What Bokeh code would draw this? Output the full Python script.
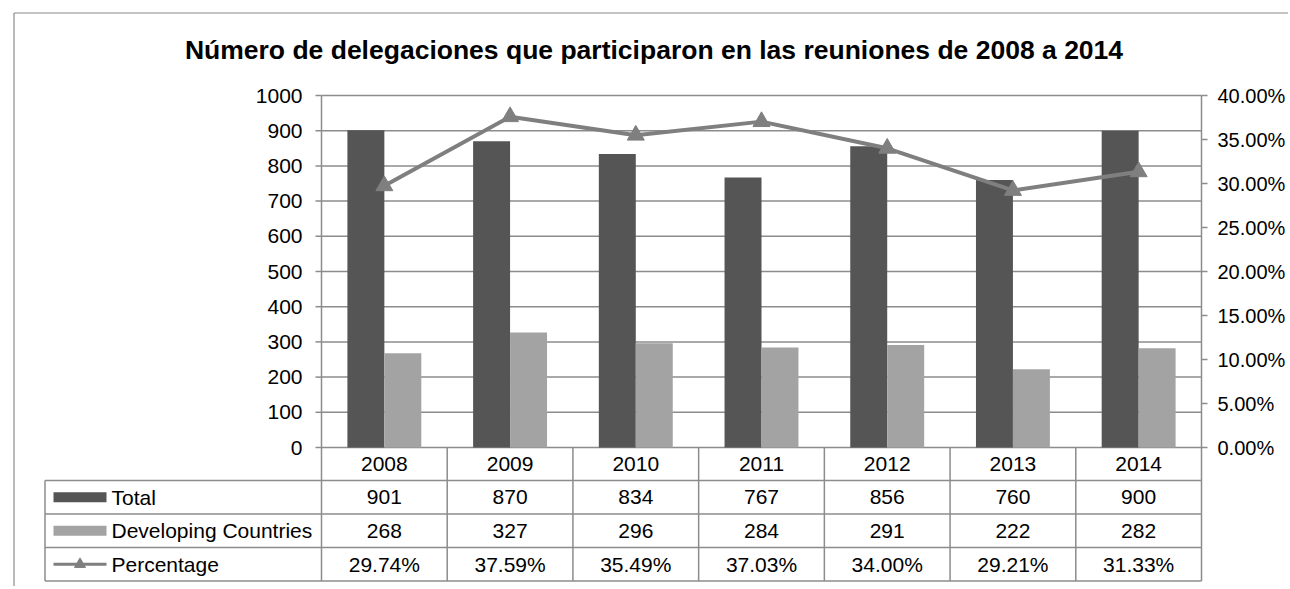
from bokeh.plotting import figure
from bokeh.models import Range1d, ColumnDataSource
from bokeh.core.properties import value
from bokeh.embed import file_html
from bokeh.resources import INLINE
import numpy as np

# ---------------- data ----------------
years = ["2008", "2009", "2010", "2011", "2012", "2013", "2014"]
total = [901, 870, 834, 767, 856, 760, 900]
developing = [268, 327, 296, 284, 291, 222, 282]
percentage = [29.74, 37.59, 35.49, 37.03, 34.00, 29.21, 31.33]
left_ticks = [0, 100, 200, 300, 400, 500, 600, 700, 800, 900, 1000]
right_ticks = [0, 5, 10, 15, 20, 25, 30, 35, 40]
series_names = ["Total", "Developing Countries", "Percentage"]
title_text = "Número de delegaciones que participaron en las reuniones de 2008 a 2014"

# ---------------- geometry (page pixels) ----------------
W, H = 1288, 586
M = 0
PX0, PX1 = 321, 1201      # plot area left / right
PY0, PY1 = 447, 95        # pixel row of value 0 and of value 1000
n = len(years)
ppx = (PX1 - PX0) / n
ppy = (PY0 - PY1) / 1000.0


def dx(ix):
    return (ix - PX0) / ppx


def dy(iy):
    return (PY0 - iy) / ppy


FONT = value("Liberation Sans")
FS = "21px"
GRID = "#8c8c8c"
C_TOTAL = "#555555"
C_DEV = "#a3a3a3"
C_LINE = "#7f7f7f"

p = figure(width=W, height=H,
           x_range=Range1d(dx(M), dx(M + W)),
           y_range=Range1d(dy(M + H), dy(M)),
           output_backend="svg", toolbar_location=None,
           x_axis_location=None, y_axis_location=None,
           min_border=0, title=None, outline_line_color=None,
           background_fill_color="white", border_fill_color="white")
p.grid.visible = False
pct_scale = 1000.0 / max(right_ticks)
p.extra_y_ranges = {"pct": Range1d(dy(M + H) / pct_scale, dy(M) / pct_scale)}

idx = np.arange(n) + 0.5
bw = 0.294
src = ColumnDataSource(dict(
    x=idx, xt=idx - bw / 2, xd=idx + bw / 2,
    total=total, developing=developing, pct=percentage,
))

# outer chart border
p.segment(x0=[dx(13.5), dx(13.5)], y0=[dy(12.5), dy(12.5)],
          x1=[dx(1300), dx(13.5)], y1=[dy(12.5), dy(600)],
          line_color="#8a8a8a", line_width=1.2)

# horizontal grid lines
p.segment(x0=0, x1=n, y0=left_ticks, y1=left_ticks, line_color=GRID, line_width=1.5)
# left axis ticks
p.segment(x0=dx(315), x1=0, y0=left_ticks, y1=left_ticks, line_color=GRID, line_width=1.5)
# right axis ticks
p.segment(x0=n, x1=dx(1207), y0=right_ticks, y1=right_ticks, line_color=GRID,
          line_width=1.5, y_range_name="pct")

# table geometry
row_lines = [dy(480), dy(513.5), dy(547), dy(580.5)]
row_mid = [dy(463.5), dy(496.75), dy(530.25), dy(563.75)]
leg_left = dx(44.5)

# vertical lines: plot borders and table column dividers
p.segment(x0=list(range(n + 1)), x1=list(range(n + 1)),
          y0=[max(left_ticks)] + [0] * (n - 1) + [max(left_ticks)],
          y1=[row_lines[-1]] * (n + 1), line_color=GRID, line_width=1.5)
# legend column left line
p.segment(x0=[leg_left], x1=[leg_left], y0=[row_lines[0]], y1=[row_lines[-1]],
          line_color=GRID, line_width=1.5)
# table row lines
p.segment(x0=[leg_left] * 4, x1=[n] * 4, y0=row_lines, y1=row_lines,
          line_color=GRID, line_width=1.5)

# bars
p.vbar(x="xt", top="total", bottom=0, width=bw, source=src,
       fill_color=C_TOTAL, line_color=None)
p.vbar(x="xd", top="developing", bottom=0, width=bw, source=src,
       fill_color=C_DEV, line_color=None)

# percentage line
p.line(x="x", y="pct", source=src, y_range_name="pct",
       line_color=C_LINE, line_width=4)
p.scatter(x="x", y="pct", source=src, y_range_name="pct", marker="triangle",
          size=17, fill_color=C_LINE, line_color=C_LINE)

# axis labels
p.text(x=[dx(302)] * len(left_ticks), y=left_ticks, text=[str(v) for v in left_ticks],
       text_align="right", text_baseline="middle", text_font=FONT,
       text_font_size=FS, text_color="black")
p.text(x=[dx(1217)] * len(right_ticks), y=right_ticks,
       text=[f"{v:.2f}%" for v in right_ticks], y_range_name="pct",
       text_align="left", text_baseline="middle", text_font=FONT,
       text_font_size="20px", text_color="black")

# table texts
rows = [years, [str(v) for v in total], [str(v) for v in developing],
        [f"{v:.2f}%" for v in percentage]]
for r, vals in enumerate(rows):
    p.text(x=list(idx), y=[row_mid[r]] * n, text=vals, text_align="center",
           text_baseline="middle", text_font=FONT, text_font_size=FS,
           text_color="black")

# legend keys and names
p.text(x=[dx(111)] * 3, y=row_mid[1:], text=series_names, text_align="left",
       text_baseline="middle", text_font=FONT, text_font_size=FS, text_color="black")
p.rect(x=[dx(79.5)], y=[row_mid[1]], width=53, height=10, width_units="screen",
       height_units="screen", fill_color=C_TOTAL, line_color=None)
p.rect(x=[dx(79.5)], y=[row_mid[2]], width=53, height=10, width_units="screen",
       height_units="screen", fill_color=C_DEV, line_color=None)
p.segment(x0=[dx(53)], x1=[dx(106)], y0=[row_mid[3]], y1=[row_mid[3]],
          line_color=C_LINE, line_width=3)
p.scatter(x=[dx(79.5)], y=[row_mid[3]], marker="triangle", size=11,
          fill_color=C_LINE, line_color=C_LINE)

# title
p.text(x=[dx(653.5)], y=[dy(49)], text=[title_text], text_align="center",
       text_baseline="middle", text_font=FONT, text_font_size="26.5px",
       text_font_style="bold", text_color="black")

open("out.html", "w").write(file_html(p, INLINE))
